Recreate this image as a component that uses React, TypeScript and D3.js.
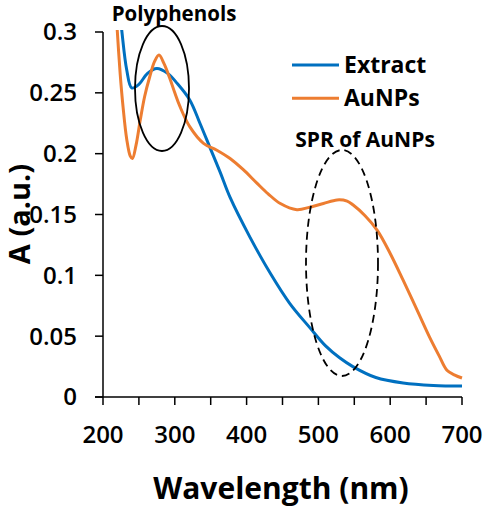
import React from "react";
import * as d3 from "d3";

const extractWl = [220, 226, 233, 240, 250, 262, 275, 290, 303, 321, 335, 349, 363, 377, 405, 433, 460, 488, 510, 530, 548, 580, 618, 660, 700];
const extractA = [0.335, 0.302, 0.269, 0.254, 0.257, 0.266, 0.27, 0.266, 0.258, 0.244, 0.225, 0.205, 0.185, 0.164, 0.131, 0.1017, 0.077, 0.057, 0.042, 0.032, 0.025, 0.016, 0.0115, 0.0095, 0.009];

const aunpWl = [217, 220, 224, 228, 233, 238, 241, 246, 252, 258, 265, 272, 278, 285, 293, 300, 307, 321, 340, 358, 377, 395, 414, 430, 447, 470, 488, 507, 526, 540, 548, 565, 582, 600, 618, 637, 655, 668, 679, 690, 700];
const aunpA = [0.33, 0.3, 0.265, 0.238, 0.212, 0.198, 0.196, 0.207, 0.228, 0.247, 0.263, 0.276, 0.281, 0.274, 0.262, 0.25, 0.239, 0.222, 0.2085, 0.203, 0.196, 0.187, 0.176, 0.167, 0.159, 0.154, 0.156, 0.159, 0.162, 0.161, 0.158, 0.149, 0.137, 0.118, 0.096, 0.072, 0.049, 0.034, 0.022, 0.018, 0.0156];

const xTicks = [200, 250, 300, 350, 400, 450, 500, 550, 600, 650, 700];
const xLabels = [200, 300, 400, 500, 600, 700];
const yTicks = [0, 0.05, 0.1, 0.15, 0.2, 0.25, 0.3];
const seriesNames = ["Extract", "AuNPs"];
const seriesColors = ["#0070C0", "#ED7D31"];

const W = 484;
const H = 507;
const left = 103, right = 462, top = 32, bottom = 397;

export default function App() {
  const x = d3.scaleLinear().domain([200, 700]).range([left, right]);
  const y = d3.scaleLinear().domain([0, 0.3]).range([bottom, top]);
  const font = "'Open Sans', sans-serif";

  const line = d3
    .line<[number, number]>()
    .x((d) => x(d[0]))
    .y((d) => y(d[1]))
    .curve(d3.curveCatmullRom.alpha(0.5));

  const extractPts = extractWl.map((w, i) => [w, extractA[i]] as [number, number]);
  const aunpPts = aunpWl.map((w, i) => [w, aunpA[i]] as [number, number]);

  return (
    <svg width={W} height={H} style={{ position: "absolute", left: 0, top: 0, background: "#fff" }} fontFamily={font}>
      <defs>
        <clipPath id="plotClip">
          <rect x={left} y={top - 2} width={right - left + 4} height={bottom - top + 2} />
        </clipPath>
      </defs>
      <g clipPath="url(#plotClip)">
        <path d={line(extractPts) || ""} fill="none" stroke={seriesColors[0]} strokeWidth={3} />
        <path d={line(aunpPts) || ""} fill="none" stroke={seriesColors[1]} strokeWidth={3} />
      </g>
      {/* axes */}
      <line x1={left} x2={left} y1={top} y2={bottom} stroke="#000" strokeWidth={1.5} />
      <line x1={left - 8} x2={right} y1={bottom} y2={bottom} stroke="#000" strokeWidth={1.5} />
      {yTicks.map((t) => (
        <g key={"y" + t}>
          <line x1={left - 8} x2={left} y1={y(t)} y2={y(t)} stroke="#000" strokeWidth={1.5} />
          <text x={77} y={y(t)} dy="0.35em" textAnchor="end" fontSize={24} fontWeight={600} fill="#000">
            {String(t)}
          </text>
        </g>
      ))}
      {xTicks.map((t) => (
        <line key={"x" + t} x1={x(t)} x2={x(t)} y1={bottom} y2={bottom + 8} stroke="#000" strokeWidth={1.5} />
      ))}
      {xLabels.map((t) => (
        <text key={"xl" + t} x={x(t)} y={443} textAnchor="middle" fontSize={24} fontWeight={600} fill="#000">
          {t}
        </text>
      ))}
      <text x={281} y={499} textAnchor="middle" fontSize={30} fontWeight={700} fill="#000">
        Wavelength (nm)
      </text>
      <text transform="translate(30,214) rotate(-90)" textAnchor="middle" fontSize={29} fontWeight={700} fill="#000">
        A (a.u.)
      </text>
      {/* legend */}
      {seriesNames.map((n, i) => (
        <g key={n}>
          <line x1={292} x2={339} y1={65 + i * 33.3} y2={65 + i * 33.3} stroke={seriesColors[i]} strokeWidth={3} />
          <text x={344} y={72.5 + i * 33} fontSize={23} fontWeight={700} fill="#000">
            {n}
          </text>
        </g>
      ))}
      {/* annotations */}
      <text x={174} y={21} textAnchor="middle" fontSize={20.5} fontWeight={700} fill="#000">
        Polyphenols
      </text>
      <ellipse cx={162} cy={88.5} rx={27} ry={62.5} fill="none" stroke="#000" strokeWidth={1.8} />
      <text x={365} y={147} textAnchor="middle" fontSize={21} fontWeight={700} fill="#000">
        SPR of AuNPs
      </text>
      <ellipse cx={342} cy={263} rx={36} ry={113} fill="none" stroke="#000" strokeWidth={1.8} strokeDasharray="8 5" />
    </svg>
  );
}
